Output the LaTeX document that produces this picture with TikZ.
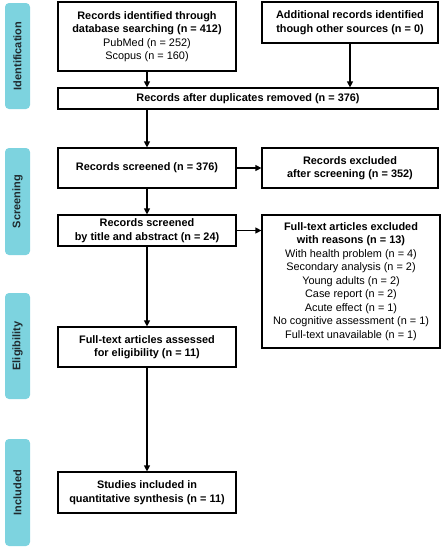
\documentclass[tikz,border=0pt]{standalone}
\usepackage{fontspec}
\setmainfont{Liberation Sans}
\usetikzlibrary{arrows.meta}
\definecolor{phase}{HTML}{7DD3DF}
\definecolor{phasetext}{HTML}{1F2A2E}
\begin{document}
\begin{tikzpicture}[x=1pt,y=-1pt,
  box/.style={draw=black,line width=1.2pt,fill=white,inner sep=0pt,align=center,
    font=\fontsize{10.9}{13.5}\selectfont},
  phasebox/.style={fill=phase,rounded corners=4pt,inner sep=0pt,minimum width=25pt},
  phaselabel/.style={rotate=90,font=\fontsize{11}{12}\selectfont\bfseries,text=phasetext},
  arr/.style={line width=1.2pt,-{Triangle[length=6pt,width=6pt]}}]
\useasboundingbox (0,0) rectangle (443,550);
% phase labels
\node[phasebox,minimum height=106pt] (pid) at (17.5,56) {};
\node[phaselabel] (lid) at (pid.center) {Identification};
\node[phasebox,minimum height=107pt] (psc) at (17.5,201.5) {};
\node[phaselabel] (lsc) at (psc.center) {Screening};
\node[phasebox,minimum height=106pt] (pel) at (17.5,346) {};
\node[phaselabel] (lel) at (pel.center) {Eligibility};
\node[phasebox,minimum height=107pt] (pin) at (17.5,492.5) {};
\node[phaselabel] (lin) at (pin.center) {Included};
% boxes
\node[box,minimum width=178pt,minimum height=69pt] (b1) at (147,36.5)
  {\textbf{Records identified through}\\\textbf{database searching (n = 412)}\\PubMed (n = 252)\\Scopus (n = 160)};
\node[box,minimum width=176pt,minimum height=41pt] (b2) at (350,22.5)
  {\textbf{Additional records identified}\\\textbf{though other sources (n = 0)}};
\node[box,minimum width=380pt,minimum height=21pt] (b3) at (248,98.5)
  {\textbf{Records after duplicates removed (n = 376)}};
\node[box,minimum width=178pt,minimum height=40pt] (b4) at (147,168)
  {\textbf{Records screened (n = 376)}};
\node[box,minimum width=176pt,minimum height=40pt] (b5) at (350,168)
  {\textbf{Records excluded}\\\textbf{after screening (n = 352)}};
\node[box,minimum width=178pt,minimum height=31pt] (b6) at (147,230.5)
  {\textbf{Records screened}\\\textbf{by title and abstract (n = 24)}};
\node[box,minimum width=178pt,minimum height=133pt] (b7) at (351,281.5)
  {\textbf{Full-text articles excluded}\\\textbf{with reasons (n = 13)}\\With health problem (n = 4)\\Secondary analysis (n = 2)\\Young adults (n = 2)\\Case report (n = 2)\\Acute effect (n = 1)\\No cognitive assessment (n = 1)\\Full-text unavailable (n = 1)};
\node[box,minimum width=178pt,minimum height=40pt] (b8) at (147,347)
  {\textbf{Full-text articles assessed}\\\textbf{for eligibility (n = 11)}};
\node[box,minimum width=178pt,minimum height=41pt] (b9) at (147,492.5)
  {\textbf{Studies included in}\\\textbf{quantitative synthesis (n = 11)}};
% connectors
\draw[arr] (b1.south) -- (b1.south |- b3.north);
\draw[arr] (b2.south) -- (b2.south |- b3.north);
\draw[arr] (b3.south -| b4.north) -- (b4.north);
\draw[arr] (b4.east) -- (b5.west);
\draw[arr] (b4.south) -- (b6.north);
\draw[arr] (b6.east) -- (b6.east -| b7.west);
\draw[arr] (b6.south) -- (b8.north);
\draw[arr] (b8.south) -- (b9.north);
\end{tikzpicture}
\end{document}
